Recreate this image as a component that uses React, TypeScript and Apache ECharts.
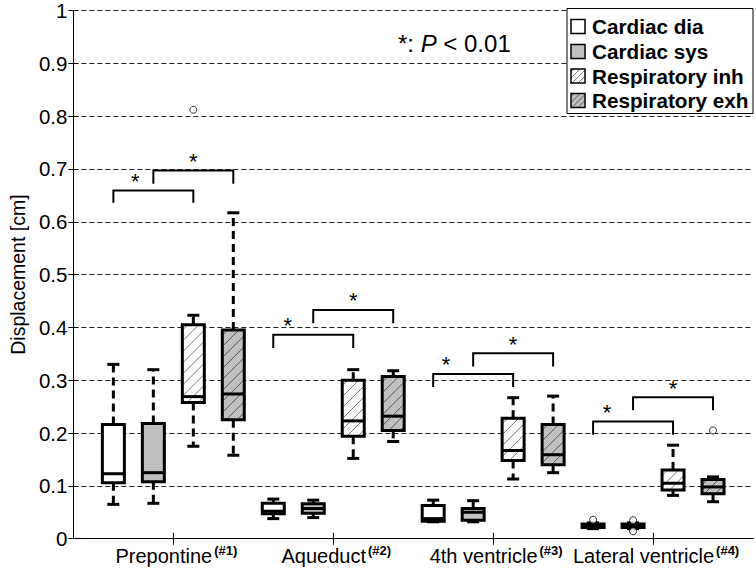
import React, { useEffect, useRef } from 'react';
import * as echarts from 'echarts';

const categories = ['Prepontine', 'Aqueduct', '4th ventricle', 'Lateral ventricle'];
const categoryTags = ['(#1)', '(#2)', '(#3)', '(#4)'];
const seriesNames = ['Cardiac dia', 'Cardiac sys', 'Respiratory inh', 'Respiratory exh'];
const yTicks = [0, 0.1, 0.2, 0.3, 0.4, 0.5, 0.6, 0.7, 0.8, 0.9, 1];

// [min, q1, median, q3, max] per category
const cardiacDia = [
  [0.065, 0.106, 0.123, 0.216, 0.33],
  [0.038, 0.047, 0.052, 0.067, 0.075],
  [0.032, 0.033, 0.038, 0.063, 0.073],
  [0.019, 0.021, 0.024, 0.028, 0.03],
];
const cardiacSys = [
  [0.067, 0.108, 0.125, 0.218, 0.32],
  [0.04, 0.048, 0.057, 0.066, 0.073],
  [0.032, 0.035, 0.05, 0.057, 0.072],
  [0.019, 0.021, 0.024, 0.028, 0.03],
];
const respInh = [
  [0.175, 0.258, 0.269, 0.405, 0.423],
  [0.152, 0.194, 0.223, 0.3, 0.32],
  [0.113, 0.148, 0.167, 0.228, 0.267],
  [0.082, 0.092, 0.105, 0.13, 0.177],
];
const respExh = [
  [0.158, 0.225, 0.274, 0.395, 0.617],
  [0.184, 0.205, 0.232, 0.307, 0.318],
  [0.125, 0.14, 0.159, 0.216, 0.27],
  [0.07, 0.085, 0.098, 0.112, 0.117],
];
// outliers: [seriesIndex, categoryIndex, value]
const outliers = [
  [2, 0, 0.812],
  [0, 3, 0.036],
  [1, 3, 0.035],
  [1, 3, 0.014],
  [3, 3, 0.205],
];
// significance brackets (box positions 1..16)
const bracketFrom = [1, 2, 5, 6, 9, 10, 13, 14];
const bracketTo = [3, 4, 7, 8, 11, 12, 15, 16];
const bracketTop = [0.659, 0.697, 0.386, 0.433, 0.312, 0.351, 0.222, 0.268];
const bracketBottom = [0.636, 0.672, 0.361, 0.408, 0.287, 0.326, 0.197, 0.243];
const starX = [1.55, 3, 5.36, 7, 9.32, 11, 13.35, 15];

const allSeries = [cardiacDia, cardiacSys, respInh, respExh];
const FONT = '"Liberation Sans", Arial, Helvetica, sans-serif';
const GRAY = '#c0c0c0';
const fills = ['#ffffff', GRAY, '#ffffff', GRAY];
const hatchColors = [null, null, '#7a7a7a', '#555555'];

function hatch(x0: number, y0: number, x1: number, y1: number, step: number, color: string, z?: number) {
  const out: any[] = [];
  for (let c = x0 + y0 + step / 2; c < x1 + y1; c += step) {
    const xa = Math.max(x0, c - y1);
    const xb = Math.min(x1, c - y0);
    if (xb - xa > 0.5) {
      const el: any = {
        type: 'line',
        shape: { x1: xa, y1: c - xa, x2: xb, y2: c - xb },
        style: { stroke: color, lineWidth: 1 },
      };
      if (z !== undefined) el.z = z;
      out.push(el);
    }
  }
  return out;
}

export default function App() {
  const ref = useRef<HTMLDivElement>(null);
  useEffect(() => {
    document.body.style.margin = '0';
    const chart = echarts.init(ref.current!, null, { renderer: 'svg' });
    const tickVals = categories.map((_, i) => i * 4 + 2.5);

    const boxSeries = allSeries.map((ser, si) => ({
      type: 'custom',
      name: seriesNames[si],
      clip: false,
      z: 3,
      data: ser.map((v, ci) => [ci * 4 + si + 1, ...v]),
      renderItem: (params: any, api: any) => {
        const pos = api.value(0);
        const p = [1, 2, 3, 4, 5].map((k) => api.coord([pos, api.value(k)]));
        const cx = p[0][0];
        const [yMin, yQ1, yMed, yQ3, yMax] = p.map((q) => q[1]);
        const hw = 11;
        const cap = 6;
        const lw = 3;
        const children: any[] = [
          { type: 'line', shape: { x1: cx, y1: yQ3, x2: cx, y2: yMax }, style: { stroke: '#000', lineWidth: lw, lineDash: [8, 5] } },
          { type: 'line', shape: { x1: cx, y1: yQ1, x2: cx, y2: yMin }, style: { stroke: '#000', lineWidth: lw, lineDash: [8, 5] } },
          { type: 'line', shape: { x1: cx - cap, y1: yMax, x2: cx + cap, y2: yMax }, style: { stroke: '#000', lineWidth: lw } },
          { type: 'line', shape: { x1: cx - cap, y1: yMin, x2: cx + cap, y2: yMin }, style: { stroke: '#000', lineWidth: lw } },
          { type: 'rect', shape: { x: cx - hw, y: yQ3, width: 2 * hw, height: yQ1 - yQ3 }, style: { fill: fills[si], stroke: null } },
        ];
        if (hatchColors[si]) {
          children.push(...hatch(cx - hw, yQ3, cx + hw, yQ1, 11, hatchColors[si] as string));
        }
        children.push(
          { type: 'line', shape: { x1: cx - hw, y1: yMed, x2: cx + hw, y2: yMed }, style: { stroke: '#000', lineWidth: lw } },
          { type: 'rect', shape: { x: cx - hw, y: yQ3, width: 2 * hw, height: yQ1 - yQ3 }, style: { fill: 'none', stroke: '#000', lineWidth: lw } },
        );
        return { type: 'group', children };
      },
    }));

    const bracketSeries = {
      type: 'custom',
      clip: false,
      z: 4,
      data: bracketFrom.map((f, i) => [f, bracketTo[i], bracketTop[i], bracketBottom[i], starX[i]]),
      renderItem: (params: any, api: any) => {
        const a = api.coord([api.value(0), api.value(2)]);
        const ab = api.coord([api.value(0), api.value(3)]);
        const b = api.coord([api.value(1), api.value(2)]);
        const bb = api.coord([api.value(1), api.value(3)]);
        const s = api.coord([api.value(4), api.value(2)]);
        return {
          type: 'group',
          children: [
            { type: 'polyline', shape: { points: [[ab[0], ab[1]], [a[0], a[1]], [b[0], b[1]], [bb[0], bb[1]]] }, style: { stroke: '#000', lineWidth: 2, fill: 'none' } },
            { type: 'text', x: s[0], y: s[1] - 9, style: { text: '*', fontSize: 22, fontFamily: FONT, fill: '#000', align: 'center', verticalAlign: 'middle' } },
          ],
        };
      },
    };

    const outlierSeries = {
      type: 'scatter',
      z: 5,
      symbol: 'circle',
      symbolSize: 7,
      itemStyle: { color: '#fff', borderColor: '#000', borderWidth: 1 },
      data: outliers.map((o) => [o[1] * 4 + o[0] + 1, o[2]]),
    };

    // legend graphic
    const lx = 567, ly = 8.5, lwid = 186, lh = 105;
    const rows = [26.5, 51.5, 76, 100.5];
    const legendEls: any[] = [
      { type: 'rect', z: 100, shape: { x: lx, y: ly, width: lwid, height: lh }, style: { fill: '#fff', stroke: '#000', lineWidth: 1 } },
    ];
    seriesNames.forEach((n, i) => {
      const sx = 571, sy = rows[i] - 7, sw = 14;
      legendEls.push({ type: 'rect', z: 101, shape: { x: sx, y: sy, width: sw, height: sw }, style: { fill: fills[i], stroke: null } });
      if (hatchColors[i]) legendEls.push(...hatch(sx, sy, sx + sw, sy + sw, 6, hatchColors[i] as string, 102));
      legendEls.push({ type: 'rect', z: 103, shape: { x: sx, y: sy, width: sw, height: sw }, style: { fill: 'none', stroke: '#000', lineWidth: 1.5 } });
      legendEls.push({ type: 'text', z: 103, x: 592, y: rows[i], style: { text: n, fontSize: 20.7, fontWeight: 'bold', fontFamily: FONT, fill: '#000', verticalAlign: 'middle', align: 'left' } });
    });
    legendEls.push({
      type: 'text', z: 100, x: 398, y: 43,
      style: {
        text: '{n|*: }{i|P}{n| < 0.01}',
        verticalAlign: 'middle', align: 'left',
        rich: {
          n: { fontSize: 24, fontFamily: FONT, fill: '#000' },
          i: { fontSize: 24, fontFamily: FONT, fontStyle: 'italic', fill: '#000' },
        },
      },
    });

    chart.setOption({
      animation: false,
      backgroundColor: '#fff',
      grid: { left: 61, right: 3, top: 8.5, bottom: 29.3, show: false },
      xAxis: [
        {
          type: 'value', min: 0, max: 17, position: 'bottom',
          axisLine: { show: true, lineStyle: { color: '#000', width: 1 } },
          splitLine: { show: false },
          axisTick: { show: true, inside: true, length: 6, customValues: tickVals, lineStyle: { color: '#000' } },
          axisLabel: {
            customValues: tickVals, margin: 5, padding: [0, 0, 0, 6],
            formatter: (v: number) => {
              const i = Math.round((v - 2.5) / 4);
              return `{a|${categories[i]}}{b|${categoryTags[i]}}`;
            },
            rich: {
              a: { fontSize: 20, fontFamily: FONT, color: '#000', lineHeight: 24 },
              b: { fontSize: 13, fontWeight: 'bold', fontFamily: FONT, color: '#000', verticalAlign: 'top', padding: [0, 0, 5, 2] },
            },
          },
        },
        {
          type: 'value', min: 0, max: 17, position: 'top',
          axisLine: { show: true, lineStyle: { color: '#000', width: 1 } },
          splitLine: { show: false },
          axisTick: { show: true, inside: true, length: 6, customValues: tickVals, lineStyle: { color: '#000' } },
          axisLabel: { show: false },
        },
      ],
      yAxis: [
        {
          type: 'value', min: 0, max: 1, interval: 0.1, position: 'left',
          name: 'Displacement [cm]', nameLocation: 'middle', nameGap: 42,
          nameTextStyle: { fontSize: 19.5, fontFamily: FONT, color: '#000' },
          axisLine: { show: true, lineStyle: { color: '#000', width: 1 } },
          axisTick: { show: true, inside: true, length: 5, lineStyle: { color: '#000' } },
          splitLine: { show: true, lineStyle: { color: '#222', type: [5, 3], width: 1 } },
          axisLabel: {
            margin: 6, fontSize: 20.5, fontFamily: FONT, color: '#000',
            formatter: (v: number) => {
              const t = yTicks.find((x) => Math.abs(x - v) < 1e-6);
              return String(t !== undefined ? t : v);
            },
          },
        },
        {
          type: 'value', min: 0, max: 1, interval: 0.1, position: 'right',
          axisLine: { show: true, lineStyle: { color: '#000', width: 1 } },
          axisTick: { show: true, inside: true, length: 5, lineStyle: { color: '#000' } },
          splitLine: { show: false },
          axisLabel: { show: false },
        },
      ],
      series: [...boxSeries, bracketSeries, outlierSeries],
      graphic: legendEls,
    });
    return () => chart.dispose();
  }, []);
  return <div ref={ref} style={{ width: 756, height: 568 }} />;
}
